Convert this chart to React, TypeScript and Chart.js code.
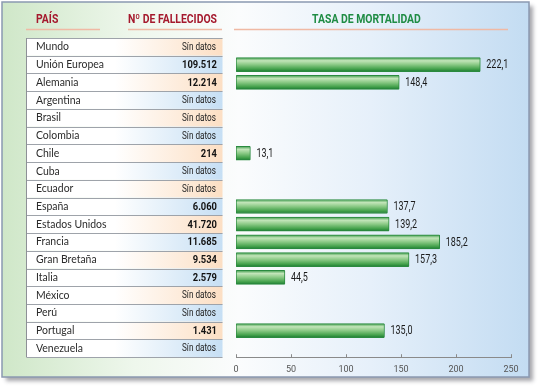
import React, { useEffect, useRef } from 'react';
import { Chart, registerables } from 'chart.js';

Chart.register(...registerables);

const countries = [
  'Mundo', 'Unión Europea', 'Alemania', 'Argentina', 'Brasil', 'Colombia', 'Chile', 'Cuba', 'Ecuador',
  'España', 'Estados Unidos', 'Francia', 'Gran Bretaña', 'Italia', 'México', 'Perú', 'Portugal', 'Venezuela',
];
const deaths: (number | null)[] = [
  null, 109512, 12214, null, null, null, 214, null, null, 6060, 41720, 11685, 9534, 2579, null, null, 1431, null,
];
const rates: (number | null)[] = [
  null, 222.1, 148.4, null, null, null, 13.1, null, null, 137.7, 139.2, 185.2, 157.3, 44.5, null, null, 135.0, null,
];
const xTicks = [0, 50, 100, 150, 200, 250];
const headers = ['PAÍS', 'Nº DE FALLECIDOS', 'TASA DE MORTALIDAD'];
const noDataText = 'Sín datos';

const COND = 'Roboto, "Liberation Sans", sans-serif';
const SANS = 'Lato, "Liberation Sans", sans-serif';

const F_HEAD = `bold 12px ${COND}`;
const F_NUM = `bold 11.5px ${COND}`;
const F_NODATA = `10px ${COND}`;
const F_VAL = `12.5px ${COND}`;
const F_NAME = `11px ${SANS}`;

function fmtThousands(n: number) {
  return n.toString().replace(/\B(?=(\d{3})+(?!\d))/g, '.');
}
function fmtRate(v: number) {
  return v.toFixed(1).replace('.', ',');
}

function scaleFor(ctx: CanvasRenderingContext2D, font: string, sample: string, target: number) {
  ctx.save();
  ctx.font = font;
  const w = ctx.measureText(sample).width;
  ctx.restore();
  return w > 0 ? Math.min(1, target / w) : 1;
}

function drawText(
  ctx: CanvasRenderingContext2D, text: string, x: number, y: number,
  font: string, color: string, align: CanvasTextAlign, sx: number,
) {
  ctx.save();
  ctx.font = font;
  ctx.fillStyle = color;
  ctx.textAlign = align;
  ctx.textBaseline = 'middle';
  ctx.translate(x, y);
  ctx.scale(sx, 1);
  ctx.fillText(text, 0, 0);
  ctx.restore();
}

const backdropPlugin = {
  id: 'backdrop',
  beforeDraw(chart: any) {
    const ctx = chart.ctx as CanvasRenderingContext2D;
    const y = chart.scales.y;
    const area = chart.chartArea;
    const sHead = scaleFor(ctx, F_HEAD, headers[1], 89);
    const sNum = scaleFor(ctx, F_NUM, '109.512', 35);
    const sNo = scaleFor(ctx, F_NODATA, noDataText, 34);
    const sName = scaleFor(ctx, F_NAME, 'Unión Europea', 68);

    ctx.save();
    const fx = 2, fy = 2, fw = 527, fh = 375;
    ctx.shadowColor = 'rgba(60,60,70,0.45)';
    ctx.shadowBlur = 4;
    ctx.shadowOffsetX = 4;
    ctx.shadowOffsetY = 4;
    ctx.fillStyle = '#ffffff';
    ctx.fillRect(fx, fy, fw, fh);
    ctx.shadowColor = 'transparent';
    const bg = ctx.createLinearGradient(fx, 0, fx + fw, 0);
    bg.addColorStop(0, '#cfe7c8');
    bg.addColorStop(0.25, '#eef7ec');
    bg.addColorStop(0.45, '#fbfcfd');
    bg.addColorStop(0.7, '#e6f0fa');
    bg.addColorStop(1, '#c3dcf2');
    ctx.fillStyle = bg;
    ctx.fillRect(fx, fy, fw, fh);
    ctx.strokeStyle = '#8b99b1';
    ctx.lineWidth = 1.5;
    ctx.strokeRect(fx, fy, fw, fh);
    ctx.restore();

    drawText(ctx, headers[0], 36, 20, F_HEAD, '#a5192d', 'left', sHead);
    drawText(ctx, headers[1], 128, 20, F_HEAD, '#a5192d', 'left', sHead);
    drawText(ctx, headers[2], 366.5, 20, F_HEAD, '#1f8c44', 'center', sHead);

    ctx.save();
    ctx.strokeStyle = '#f0b9a4';
    ctx.lineWidth = 1.5;
    const lines = [[26, 100], [128, 222], [234, 508]];
    for (const [a, b] of lines) {
      ctx.beginPath();
      ctx.moveTo(a, 29.5);
      ctx.lineTo(b, 29.5);
      ctx.stroke();
    }

    const tl = 26.5, tr = 222.5;
    const rowH = (area.bottom - area.top) / countries.length;
    countries.forEach((name, i) => {
      const cy = y.getPixelForValue(i);
      const top = cy - rowH / 2;
      const g = ctx.createLinearGradient(tl, 0, tr, 0);
      const col = i % 2 === 0 ? '#fcdfc4' : '#c6dff4';
      g.addColorStop(0, '#ffffff');
      g.addColorStop(0.45, '#ffffff');
      g.addColorStop(1, col);
      ctx.fillStyle = g;
      ctx.fillRect(tl, top, tr - tl, rowH);
    });
    ctx.strokeStyle = '#9ea3aa';
    ctx.lineWidth = 1;
    for (let i = 0; i <= countries.length; i++) {
      const yy = Math.round(area.top + i * rowH) + 0.5;
      ctx.beginPath();
      ctx.moveTo(tl, yy);
      ctx.lineTo(tr, yy);
      ctx.stroke();
    }
    ctx.strokeStyle = '#8d9096';
    ctx.beginPath();
    ctx.moveTo(tl, area.top);
    ctx.lineTo(tl, area.bottom);
    ctx.stroke();
    ctx.restore();

    countries.forEach((name, i) => {
      const cy = y.getPixelForValue(i);
      drawText(ctx, name, 36, cy, F_NAME, '#2b2b2b', 'left', sName);
      const d = deaths[i];
      if (d == null) {
        drawText(ctx, noDataText, 216, cy + 0.5, F_NODATA, '#222', 'right', sNo);
      } else {
        drawText(ctx, fmtThousands(d), 217, cy + 0.5, F_NUM, '#111', 'right', sNum);
      }
    });
  },
  afterDatasetsDraw(chart: any) {
    const ctx = chart.ctx as CanvasRenderingContext2D;
    const meta = chart.getDatasetMeta(0);
    const sVal = scaleFor(ctx, F_VAL, '222,1', 22);
    meta.data.forEach((bar: any, i: number) => {
      const v = rates[i];
      if (v == null) return;
      drawText(ctx, fmtRate(v), bar.x + 6, bar.y + 0.5, F_VAL, '#1b1b1b', 'left', sVal);
    });
  },
  afterDraw(chart: any) {
    const ctx = chart.ctx as CanvasRenderingContext2D;
    const x = chart.scales.x;
    const bottom = chart.chartArea.bottom;
    ctx.save();
    ctx.strokeStyle = '#8a8a8a';
    ctx.lineWidth = 1;
    xTicks.forEach((t) => {
      const px = Math.round(x.getPixelForValue(t)) + 0.5;
      ctx.beginPath();
      ctx.moveTo(px, bottom - 3);
      ctx.lineTo(px, bottom);
      ctx.stroke();
    });
    ctx.restore();
  },
};

export default function App() {
  const ref = useRef<HTMLCanvasElement | null>(null);
  useEffect(() => {
    if (!ref.current) return;
    const chart = new Chart(ref.current, {
      type: 'bar',
      data: {
        labels: countries,
        datasets: [
          {
            data: rates as any,
            backgroundColor: (c: any) => {
              const ch = c.chart;
              const ys = ch.scales && ch.scales.y;
              if (!ys || c.dataIndex == null) return '#6cb868';
              const cy = ys.getPixelForValue(c.dataIndex);
              if (!Number.isFinite(cy)) return '#6cb868';
              const g = ch.ctx.createLinearGradient(0, cy - 7, 0, cy + 7);
              g.addColorStop(0, '#3f9c4c');
              g.addColorStop(0.22, '#c2e5b9');
              g.addColorStop(0.5, '#8ac985');
              g.addColorStop(0.82, '#43a14b');
              g.addColorStop(1, '#1d7a33');
              return g;
            },
            borderColor: '#2a8a3f',
            borderWidth: 1,
            borderRadius: 1,
            borderSkipped: false,
            barThickness: 14,
          },
        ],
      },
      options: {
        indexAxis: 'y',
        responsive: false,
        animation: false,
        layout: { padding: { left: 236, right: 29, top: 38, bottom: 6 } },
        plugins: { legend: { display: false }, tooltip: { enabled: false } },
        scales: {
          x: {
            min: 0,
            max: 250,
            afterBuildTicks: (s: any) => {
              s.ticks = xTicks.map((v) => ({ value: v }));
            },
            ticks: {
              font: { family: COND, size: 9 },
              color: '#555',
              padding: 7,
            },
            grid: { display: false, drawTicks: false, tickLength: 0 },
            border: { display: true, color: '#8a8a8a' },
          },
          y: { display: false },
        },
      },
      plugins: [backdropPlugin],
    } as any);
    return () => chart.destroy();
  }, []);
  return (
    <div style={{ position: 'absolute', left: 0, top: 0, width: 540, height: 388 }}>
      <canvas ref={ref} width={540} height={388} style={{ display: 'block' }} />
    </div>
  );
}
